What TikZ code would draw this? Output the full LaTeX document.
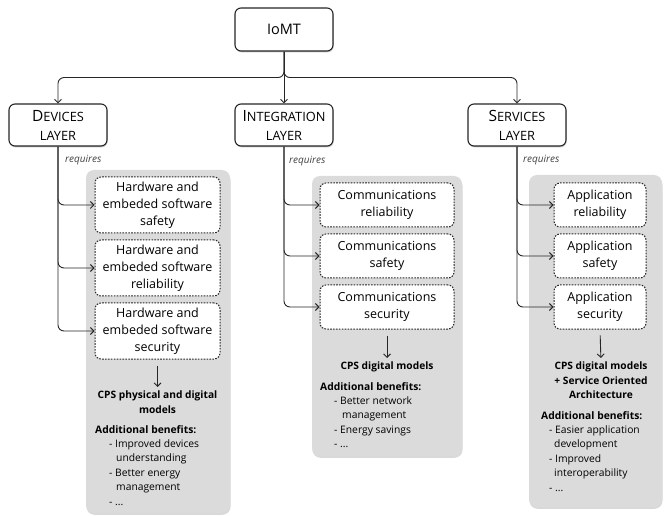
\documentclass[tikz,border=0pt]{standalone}
\usepackage{fontspec}
\setmainfont{Open Sans}
\usetikzlibrary{arrows.meta,shadows}
\tikzset{
  arr/.style={draw=black!85, line width=0.9pt, -{Straight Barb[length=3.5pt,width=7pt]}},
  headbox/.style={draw=black!85, line width=1.1pt, fill=white, rounded corners=6pt,
    minimum width=98pt, minimum height=42pt, align=center, inner sep=1pt,
    font=\fontsize{12.8}{19}\selectfont,
    drop shadow={shadow xshift=0.6pt, shadow yshift=-1.4pt, opacity=0.35, fill=black!60}},
  dbox/.style={draw=black!85, line width=1pt, dash pattern=on 1.6pt off 1.3pt, fill=white,
    rounded corners=6pt, align=center, inner sep=1pt, font=\fontsize{12.5}{17}\selectfont},
  panel/.style={fill=black!14, rounded corners=8pt,
    drop shadow={shadow xshift=0.5pt, shadow yshift=-1.8pt, opacity=0.3, fill=black!50}},
  req/.style={font=\fontsize{10}{12}\selectfont\itshape, text=black!75, anchor=west, inner sep=0pt},
  cps/.style={font=\fontsize{10.2}{14.2}\selectfont\bfseries, align=center, inner sep=0pt, anchor=north},
  ben/.style={font=\fontsize{10.3}{14.4}\selectfont, align=left, inner sep=0pt, anchor=north west}
}
\newcommand{\bigc}[1]{{\fontsize{15.5}{19}\selectfont #1}}
\begin{document}
\begin{tikzpicture}[x=1pt,y=-1pt]
\useasboundingbox (0,0) rectangle (665,516);
% panels
\path[panel] (86,170) rectangle (230,513);
\path[panel] (312,176) rectangle (462,456);
\path[panel] (529,175) rectangle (662,507);
% headings
\node[headbox, minimum width=98pt, minimum height=43pt, font=\fontsize{14.5}{17}\selectfont] (iomt) at (284,29.5) {IoMT};
\node[headbox] (dev) at (58,125) {\bigc{D}EVICES\\LAYER};
\node[headbox] (int) at (284,125) {\bigc{I}NTEGRATION\\LAYER};
\node[headbox] (srv) at (517,125) {\bigc{S}ERVICES\\LAYER};
\draw[arr, rounded corners=6pt] (iomt.south) -- ++(0,26) -| (dev.north);
\draw[arr, rounded corners=6pt] (iomt.south) -- ++(0,26) -| (srv.north);
\draw[arr] (iomt.south) -- (int.north);
% requires
\node[req] (rq1) at (65,160) {requires};
\node[req] (rq2) at (289,161) {requires};
\node[req] (rq3) at (523,160) {requires};
% devices boxes
\node[dbox, minimum width=125pt, minimum height=56pt] (d1) at (157.5,205) {Hardware and\\embeded software\\safety};
\node[dbox, minimum width=125pt, minimum height=56pt] (d2) at (157.5,268) {Hardware and\\embeded software\\reliability};
\node[dbox, minimum width=125pt, minimum height=56pt] (d3) at (157.5,331) {Hardware and\\embeded software\\security};
\draw[arr, rounded corners=6pt] (dev.south) |- (d1.west);
\draw[arr, rounded corners=6pt] (dev.south) |- (d2.west);
\draw[arr, rounded corners=6pt] (dev.south) |- (d3.west);
\node[cps] (dcps) at (157.5,391) {CPS physical and digital\\models};
\draw[arr, shorten <=6pt, shorten >=4pt] (d3.south) -- (dcps.north);
\node[ben] (dben) at (95,425) {\textbf{Additional benefits:}\\
\hspace*{14pt}- Improved devices\\\hspace*{21pt}understanding\\
\hspace*{14pt}- Better energy\\\hspace*{21pt}management\\\hspace*{14pt}- ...};
% integration boxes
\node[dbox, minimum width=134pt, minimum height=44pt] (i1) at (387,205) {Communications\\reliability};
\node[dbox, minimum width=134pt, minimum height=44pt] (i2) at (387,256) {Communications\\safety};
\node[dbox, minimum width=134pt, minimum height=44pt] (i3) at (387,307) {Communications\\security};
\draw[arr, rounded corners=6pt] (int.south) |- (i1.west);
\draw[arr, rounded corners=6pt] (int.south) |- (i2.west);
\draw[arr, rounded corners=6pt] (int.south) |- (i3.west);
\node[cps] (icps) at (387,362) {CPS digital models};
\draw[arr, shorten <=6pt, shorten >=4pt] (i3.south) -- (icps.north);
\node[ben] (iben) at (320,382) {\textbf{Additional benefits:}\\
\hspace*{14pt}- Better network\\\hspace*{22pt}management\\
\hspace*{14pt}- Energy savings\\\hspace*{14pt}- ...};
% services boxes
\node[dbox, minimum width=92pt, minimum height=44pt] (s1) at (600,205) {Application\\reliability};
\node[dbox, minimum width=92pt, minimum height=44pt] (s2) at (600,256) {Application\\safety};
\node[dbox, minimum width=92pt, minimum height=44pt] (s3) at (600,307) {Application\\security};
\draw[arr, rounded corners=6pt] (srv.south) |- (s1.west);
\draw[arr, rounded corners=6pt] (srv.south) |- (s2.west);
\draw[arr, rounded corners=6pt] (srv.south) |- (s3.west);
\node[cps] (scps) at (601,362) {CPS digital models\\+ Service Oriented\\Architecture};
\draw[arr, shorten <=6pt, shorten >=4pt] (s3.south) -- (scps.north);
\node[ben] (sben) at (541,411) {\textbf{Additional benefits:}\\
\hspace*{8pt}- Easier application\\\hspace*{13pt}development\\
\hspace*{8pt}- Improved\\\hspace*{13pt}interoperability\\\hspace*{8pt}- ...};
\end{tikzpicture}
\end{document}
